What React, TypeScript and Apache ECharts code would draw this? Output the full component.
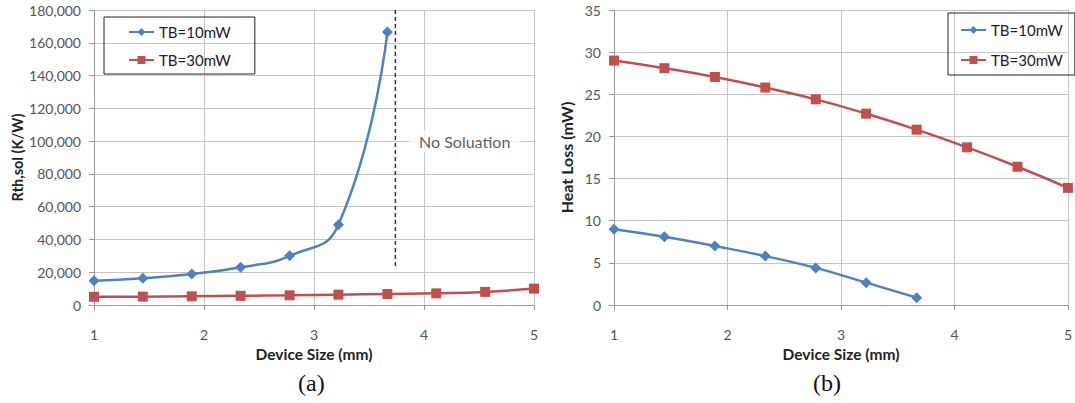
import React, { useEffect, useRef } from "react";
import * as echarts from "echarts";

const sizes = [1, 1.444, 1.889, 2.333, 2.778, 3.222, 3.667, 4.111, 4.556, 5];
const rthTB10 = [14800, 16300, 18900, 23000, 30000, 49000, 166600];
const rthTB30 = [5000, 5100, 5300, 5600, 5900, 6300, 6700, 7100, 8000, 10000];
const heatTB10 = [9.0, 8.1, 7.0, 5.8, 4.4, 2.65, 0.87];
const heatTB30 = [29.0, 28.1, 27.05, 25.8, 24.4, 22.7, 20.8, 18.7, 16.4, 13.9];
const limitSize = 3.74;
const limitRange = [180000, 22500];
const noSolutionPoint = [4.37, 100000];
const seriesNames = ["TB=10mW", "TB=30mW"];

const BLUE = "#4F81BD";
const RED = "#C0504D";
const FONT = "Lato";

const pairs = (ys: number[]) => ys.map((y, i) => [sizes[i], y]);

export default function App() {
  const ref = useRef<HTMLDivElement>(null);
  useEffect(() => {
    const chart = echarts.init(ref.current!, null, { renderer: "svg" });
    const xAxisBase = {
      type: "value",
      min: 1,
      max: 5,
      interval: 1,
      name: "Device Size (mm)",
      nameLocation: "middle",
      nameGap: 40,
      nameTextStyle: { fontFamily: FONT, fontWeight: "bold", fontSize: 15.5, color: "#222" },
      axisLine: { show: true, lineStyle: { color: "#9a9a9a" } },
      axisTick: { show: true, inside: false, length: 5, lineStyle: { color: "#9a9a9a" } },
      axisLabel: { margin: 22, fontFamily: FONT, fontSize: 14, color: "#555" },
      splitLine: { show: true, lineStyle: { color: "#c4c4c4", width: 1 } },
    };
    const yAxisBase = {
      type: "value",
      min: 0,
      nameLocation: "middle",
      nameTextStyle: { fontFamily: FONT, fontWeight: "bold", fontSize: 14.5, color: "#222" },
      axisLine: { show: true, lineStyle: { color: "#9a9a9a" } },
      axisTick: { show: true, inside: false, length: 5, lineStyle: { color: "#9a9a9a" } },
      axisLabel: { margin: 13, fontFamily: FONT, fontSize: 14, color: "#555" },
      splitLine: { show: true, lineStyle: { color: "#c4c4c4", width: 1 } },
    };
    const lineSeries = (name: string, xi: number, data: number[][], color: string, symbol: string, size: number) => ({
      type: "line",
      name,
      xAxisIndex: xi,
      yAxisIndex: xi,
      data,
      smooth: true,
      symbol,
      symbolSize: size,
      itemStyle: { color },
      lineStyle: { color, width: 2.5 },
    });
    const legendBase = {
      orient: "vertical",
      data: seriesNames,
      borderColor: "#222",
      borderWidth: 1,
      itemWidth: 25,
      itemHeight: 10,
      textStyle: { fontFamily: FONT, fontSize: 15, color: "#222", lineHeight: 18 },
    };
    chart.setOption({
      animation: false,
      backgroundColor: "#fff",
      grid: [
        { left: 94, right: 541, top: 10, bottom: 98 },
        { left: 614, right: -1, top: 10, bottom: 98 },
      ],
      xAxis: [
        { ...xAxisBase, gridIndex: 0 },
        { ...xAxisBase, gridIndex: 1 },
      ],
      yAxis: [
        {
          ...yAxisBase,
          gridIndex: 0,
          max: 180000,
          interval: 20000,
          name: "Rth,sol (K/W)",
          nameGap: 68,
          axisLabel: {
            ...yAxisBase.axisLabel,
            formatter: (v: number) => v.toLocaleString("en-US"),
          },
        },
        {
          ...yAxisBase,
          gridIndex: 1,
          max: 35,
          interval: 5,
          name: "Heat Loss (mW)",
          nameGap: 40,
          nameTextStyle: { ...yAxisBase.nameTextStyle, fontSize: 16 },
        },
      ],
      legend: [
        { ...legendBase, left: 104, top: 17, itemGap: 10, padding: [6, 24, 5, 24] },
        { ...legendBase, left: 948, top: 13, itemGap: 12, padding: [8, 12, 6, 12] },
      ],
      series: [
        lineSeries(seriesNames[0], 0, pairs(rthTB10), BLUE, "diamond", 11),
        lineSeries(seriesNames[1], 0, pairs(rthTB30), RED, "rect", 10),
        lineSeries(seriesNames[0], 1, pairs(heatTB10), BLUE, "diamond", 11),
        lineSeries(seriesNames[1], 1, pairs(heatTB30), RED, "rect", 10),
        {
          type: "line",
          name: "limit",
          xAxisIndex: 0,
          yAxisIndex: 0,
          data: limitRange.map((y) => [limitSize, y]),
          symbol: "none",
          lineStyle: { color: "#333", width: 1.5, type: [4, 3] },
          z: 1,
        },
        {
          type: "scatter",
          name: "note",
          xAxisIndex: 0,
          yAxisIndex: 0,
          data: [noSolutionPoint],
          symbolSize: 0,
          label: {
            show: true,
            position: "inside",
            formatter: "No Soluation",
            fontFamily: FONT,
            fontSize: 16,
            color: "#333",
            backgroundColor: "#fff",
            padding: [3, 10],
          },
        },
      ],
      graphic: [
        {
          type: "text",
          left: 298,
          top: 371,
          style: { text: "(a)", font: "24px 'Liberation Serif'", fill: "#111" },
        },
        {
          type: "text",
          left: 813,
          top: 371,
          style: { text: "(b)", font: "24px 'Liberation Serif'", fill: "#111" },
        },
      ],
    });
    return () => chart.dispose();
  }, []);
  return (
    <div
      ref={ref}
      style={{ position: "absolute", left: 0, top: 0, width: 1075, height: 403 }}
    />
  );
}
